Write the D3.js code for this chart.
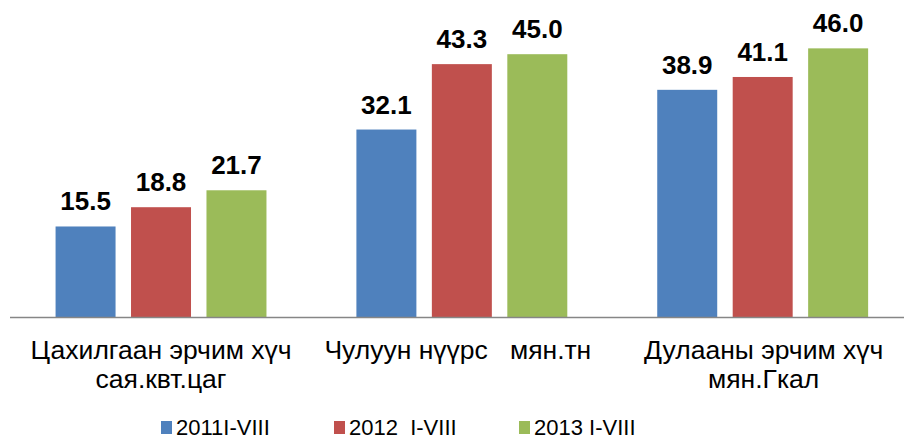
<!DOCTYPE html>
<html><head><meta charset="utf-8">
<script src="https://cdn.jsdelivr.net/npm/d3@7"></script>
<style>
html,body{margin:0;padding:0;background:#fff;}
svg{display:block;font-family:"Liberation Sans",Arial,sans-serif;}
</style></head>
<body>
<svg id="chart" width="904" height="439"></svg>
<script>
const categories = ["Цахилгаан эрчим хүч|сая.квт.цаг", "Чулуун нүүрс   мян.тн", "Дулааны эрчим хүч|мян.Гкал"];
const seriesNames = ["2011I-VIII", "2012  I-VIII", "2013 I-VIII"];
const s2011 = [15.5, 32.1, 38.9];
const s2012 = [18.8, 43.3, 41.1];
const s2013 = [21.7, 45.0, 46.0];
const colors = ["#4F81BD", "#C0504D", "#9BBB59"];
const yMax = 50;

const seriesValues = [s2011, s2012, s2013];
const svg = d3.select("#chart");

const x0 = d3.scaleBand().domain(categories).range([10.6, 913.1]).padding(0);
const x1 = d3.scaleBand().domain(seriesNames).range([0, x0.bandwidth()])
  .paddingInner(0.205).paddingOuter(0.596);
const y = d3.scaleLinear().domain([0, yMax]).range([317, 25]);

// bars
const groups = svg.selectAll("g.cat").data(categories).join("g")
  .attr("class", "cat")
  .attr("transform", d => `translate(${x0(d)},0)`);

groups.each(function(cat, ci) {
  const g = d3.select(this);
  const data = seriesNames.map((s, si) => ({s, si, v: seriesValues[si][ci]}));
  g.selectAll("rect").data(data).join("rect")
    .attr("x", d => x1(d.s))
    .attr("width", x1.bandwidth())
    .attr("y", d => y(d.v))
    .attr("height", d => y(0) - y(d.v))
    .attr("fill", d => colors[d.si]);
  g.selectAll("text.val").data(data).join("text")
    .attr("class", "val")
    .attr("x", d => x1(d.s) + x1.bandwidth() / 2)
    .attr("y", d => y(d.v) - 16)
    .attr("text-anchor", "middle")
    .attr("font-weight", "bold")
    .attr("font-size", 26)
    .attr("fill", "#000")
    .text(d => d.v.toFixed(1));
});

// axis line
const xAxis = d3.axisBottom(x0).tickSize(0).tickFormat("");
const axG = svg.append("g").attr("transform", `translate(0,${y(0)})`).call(xAxis);
axG.select(".domain").remove();
svg.append("line")
  .attr("x1", 10).attr("x2", 904)
  .attr("y1", y(0) + 0.5).attr("y2", y(0) + 0.5)
  .attr("stroke", "#868686").attr("stroke-width", 1.5);

// category labels
const labelShift = [0, -4, 1];
categories.forEach((cat, ci) => {
  const lines = cat.split("|");
  const cx = x0(cat) + x0.bandwidth() / 2 + labelShift[ci];
  const t = svg.append("text")
    .attr("text-anchor", "middle")
    .attr("font-size", 26.5)
    .attr("fill", "#000")
    .style("white-space", "pre");
  lines.forEach((ln, i) => {
    t.append("tspan").attr("x", cx).attr("y", 358.5 + i * 29).text(ln);
  });
});

// legend
const legendX = [161, 334, 519];
seriesNames.forEach((s, i) => {
  svg.append("rect")
    .attr("x", legendX[i]).attr("y", 421)
    .attr("width", 11).attr("height", 13)
    .attr("fill", colors[i]);
  svg.append("text")
    .attr("x", legendX[i] + 15).attr("y", 435)
    .attr("font-size", 22)
    .attr("fill", "#000")
    .style("white-space", "pre")
    .text(s);
});
</script>
</body></html>
